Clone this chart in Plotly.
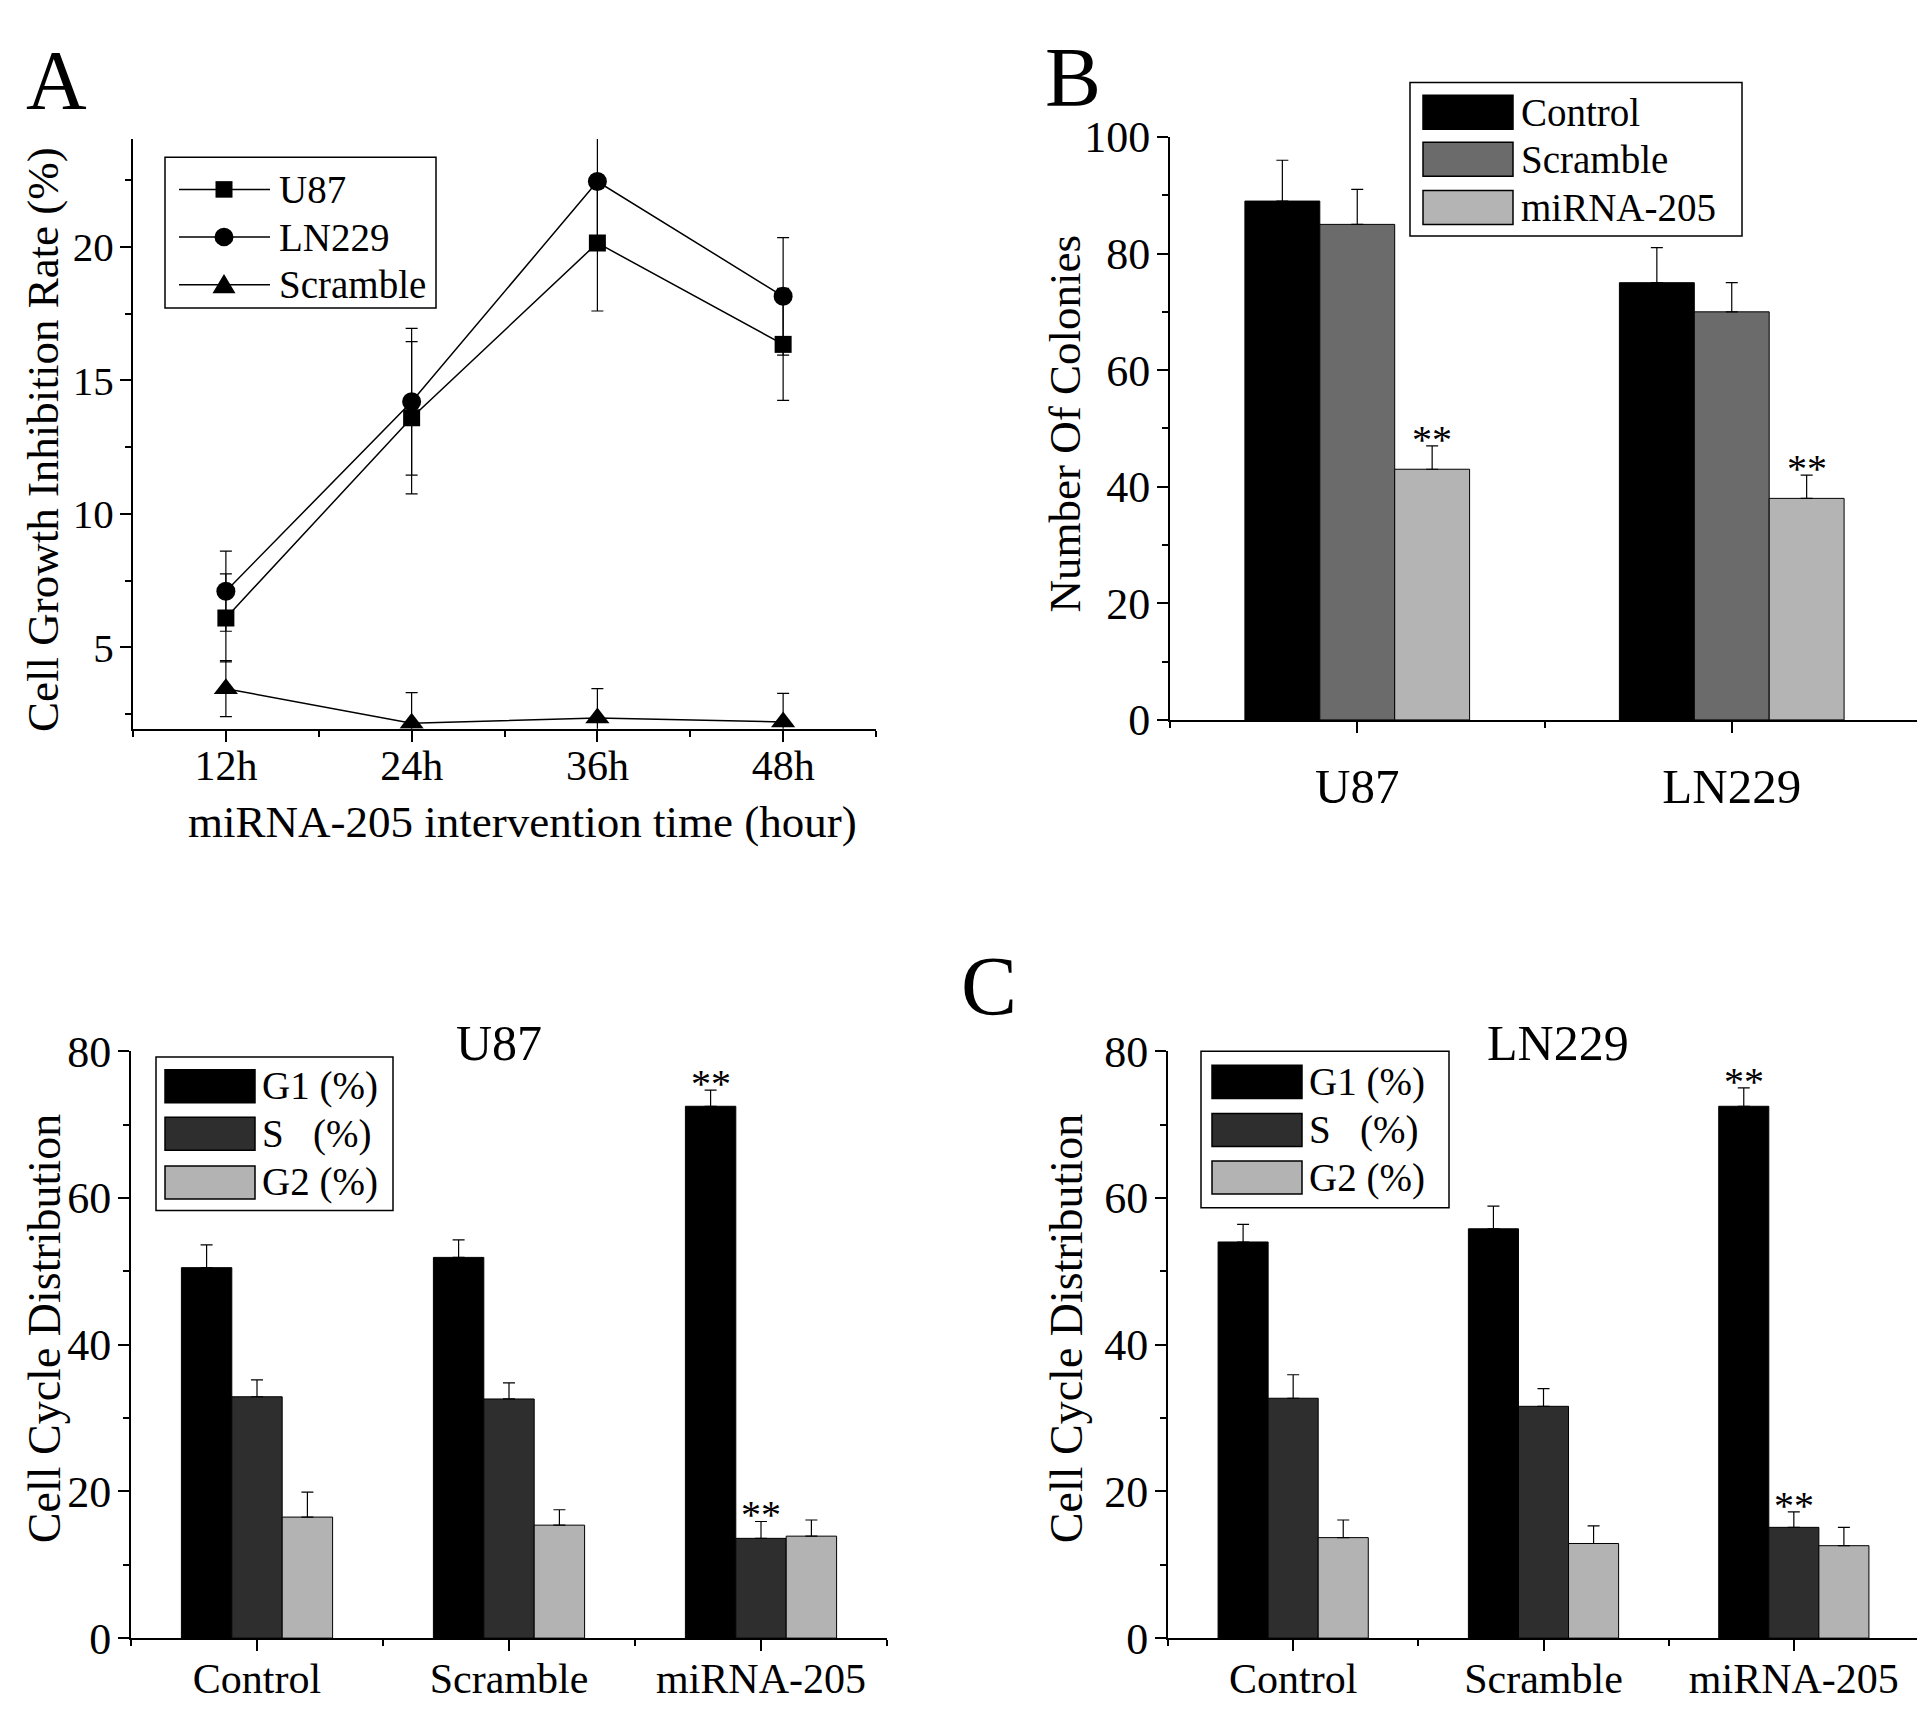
import plotly.graph_objects as go

W, H = 1925, 1728
FONT = "Liberation Serif"

# ---- panel A: growth inhibition over time
hours = [12, 24, 36, 48]
hour_labels = ["12h", "24h", "36h", "48h"]
u87_rate = [6.1, 13.6, 20.15, 16.35]
u87_err = [1.65, 2.85, 2.55, 2.1]
ln229_rate = [7.1, 14.2, 22.45, 18.15]
ln229_err = [1.5, 2.75, 2.55, 2.2]
scr_rate = [3.45, 2.15, 2.35, 2.2]
scr_err = [1.05, 1.15, 1.1, 1.07]
a_names = ["U87", "LN229", "Scramble"]

# ---- panel B: colony numbers
cell_lines = ["U87", "LN229"]
col_control = [89, 75]
col_control_err = [7, 6]
col_scramble = [85, 70]
col_scramble_err = [6, 5]
col_mirna = [43, 38]
col_mirna_err = [4, 4]

# ---- panel C: cell cycle distribution
treatments = ["Control", "Scramble", "miRNA-205"]
u87_g1 = [50.5, 51.9, 72.5]
u87_g1_err = [3.1, 2.4, 2.2]
u87_s = [32.9, 32.6, 13.6]
u87_s_err = [2.3, 2.2, 2.3]
u87_g2 = [16.5, 15.4, 13.9]
u87_g2_err = [3.4, 2.1, 2.2]
ln_g1 = [54.0, 55.8, 72.5]
ln_g1_err = [2.4, 3.1, 2.5]
ln_s = [32.7, 31.6, 15.1]
ln_s_err = [3.2, 2.4, 2.1]
ln_g2 = [13.7, 12.9, 12.6]
ln_g2_err = [2.4, 2.4, 2.5]

b_names = ["Control", "Scramble", "miRNA-205"]
b_colors = ["#000000", "#6b6b6b", "#b4b4b4"]
c_names = ["G1 (%)", "S\u00a0\u00a0\u00a0(%)", "G2 (%)"]
c_colors = ["#000000", "#2e2e2e", "#b3b3b3"]


def fx(x):
    return x / W


def fy(y):
    return 1 - y / H


fig = go.Figure()

# A lines
a_series = [(u87_rate, u87_err, "square", 17), (ln229_rate, ln229_err, "circle", 19),
            (scr_rate, scr_err, "triangle-up", 21)]
for name, (vals, err, sym, size) in zip(a_names, a_series):
    fig.add_trace(go.Scatter(
        x=hours, y=vals, name=name, mode="lines+markers", showlegend=False,
        line=dict(color="black", width=1.5),
        marker=dict(symbol=sym, size=size, color="black"),
        error_y=dict(type="data", array=err, color="black", thickness=1.2, width=6),
        xaxis="x", yaxis="y"))


def bar(xs, vals, err, color, xa, ya):
    return go.Bar(x=xs, y=vals, showlegend=False,
                  marker=dict(color=color, line=dict(color="black", width=1)),
                  error_y=dict(type="data", array=err, arrayminus=[0] * len(err), symmetric=False,
                               color="black", thickness=1.2, width=6),
                  xaxis=xa, yaxis=ya)


bx = list(range(len(cell_lines)))
fig.add_trace(bar(bx, col_control, col_control_err, b_colors[0], "x2", "y2"))
fig.add_trace(bar(bx, col_scramble, col_scramble_err, b_colors[1], "x2", "y2"))
fig.add_trace(bar(bx, col_mirna, col_mirna_err, b_colors[2], "x2", "y2"))

cx = list(range(len(treatments)))
for vals, err, col in [(u87_g1, u87_g1_err, c_colors[0]), (u87_s, u87_s_err, c_colors[1]),
                       (u87_g2, u87_g2_err, c_colors[2])]:
    fig.add_trace(bar(cx, vals, err, col, "x3", "y3"))
for vals, err, col in [(ln_g1, ln_g1_err, c_colors[0]), (ln_s, ln_s_err, c_colors[1]),
                       (ln_g2, ln_g2_err, c_colors[2])]:
    fig.add_trace(bar(cx, vals, err, col, "x4", "y4"))


def axis(domain, rng, tickvals, ticktext, minor_vals, size, anchor, standoff=0):
    return dict(domain=domain, range=rng, tickmode="array", tickvals=tickvals, ticktext=ticktext,
                showline=True, linecolor="black", linewidth=2, ticks="outside", ticklen=11,
                tickwidth=2, tickcolor="black", showgrid=False, zeroline=False, anchor=anchor,
                tickfont=dict(family=FONT, size=size, color="black"),
                ticklabelstandoff=standoff,
                minor=dict(tickvals=minor_vals, ticks="outside", ticklen=6, tickwidth=2,
                           tickcolor="black", showgrid=False))


fig.update_layout(
    width=W, height=H, margin=dict(l=0, r=0, t=0, b=0),
    paper_bgcolor="white", plot_bgcolor="white",
    bargap=0.4, bargroupgap=0, barmode="group", showlegend=False,
    font=dict(family=FONT, color="black"),
    xaxis=axis([fx(125), fx(868)], [6, 54], hours, hour_labels, [6, 18, 30, 42, 54], 42, "y", -12),
    yaxis=axis([fy(717), fy(110)], [1.95, 24.05], [5, 10, 15, 20], ["5", "10", "15", "20"],
               [2.5, 7.5, 12.5, 17.5, 22.5], 41, "x", -2),
    xaxis2=axis([fx(1162), fx(1911)], [-0.5, 1.5], bx, cell_lines, [-0.5, 0.5, 1.5], 49, "y2", 11),
    yaxis2=axis([fy(708), fy(108)], [0, 100], [0, 20, 40, 60, 80, 100],
                ["0", "20", "40", "60", "80", "100"], [10, 30, 50, 70, 90], 44, "x2", -2),
    xaxis3=axis([fx(123), fx(879)], [-0.5, 2.5], cx, treatments, [-0.5, 0.5, 1.5, 2.5], 42, "y3", -9),
    yaxis3=axis([fy(1653), fy(1049)], [0, 80], [0, 20, 40, 60, 80], ["0", "20", "40", "60", "80"],
                [10, 30, 50, 70], 44, "x3", -2),
    xaxis4=axis([fx(1160), fx(1911)], [-0.5, 2.5], cx, treatments, [-0.5, 0.5, 1.5, 2.5], 42, "y4", -9),
    yaxis4=axis([fy(1653), fy(1049)], [0, 80], [0, 20, 40, 60, 80], ["0", "20", "40", "60", "80"],
                [10, 30, 50, 70], 44, "x4", -2),
)

ann = []
shapes = []


def text(x, y, s, size, angle=0):
    ann.append(dict(x=fx(x), y=fy(y), xref="paper", yref="paper", text=s, showarrow=False,
                    textangle=angle, xanchor="center", yanchor="middle",
                    font=dict(family=FONT, size=size, color="black")))


# panel letters
text(48, 50, "A", 84)
text(1065, 47, "B", 84)
text(981, 982, "C", 84)
# axis titles
text(35, 420, "Cell Growth Inhibition Rate (%)", 45, -90)
text(514, 813, "miRNA-205 intervention time (hour)", 45)
text(1057, 404, "Number Of Colonies", 45, -90)
text(36, 1335, "Cell Cycle Distribution", 46, -90)
text(1058, 1335, "Cell Cycle Distribution", 46, -90)
# subplot titles
text(491, 1040, "U87", 50)
text(1550, 1040, "LN229", 50)

# significance stars on top of error bars
w = (1 - 0.4) / 3


def stars(xa, ya, xpos, top):
    ann.append(dict(x=xpos, y=top, xref=xa, yref=ya, text="**", showarrow=False,
                    yanchor="bottom", yshift=-18, font=dict(family=FONT, size=40, color="black")))


for i in bx:
    stars("x2", "y2", i + w, col_mirna[i] + col_mirna_err[i])
stars("x3", "y3", 2 - w, u87_g1[2] + u87_g1_err[2])
stars("x3", "y3", 2, u87_s[2] + u87_s_err[2])
stars("x4", "y4", 2 - w, ln_g1[2] + ln_g1_err[2])
stars("x4", "y4", 2, ln_s[2] + ln_s_err[2])


def frame(x0, y0, x1, y1, fill="white"):
    shapes.append(dict(type="rect", xref="paper", yref="paper", x0=fx(x0), x1=fx(x1),
                       y0=fy(y1), y1=fy(y0), line=dict(color="black", width=1.5),
                       fillcolor=fill, layer="above"))


def label(x, y, s):
    ann.append(dict(x=fx(x), y=fy(y), xref="paper", yref="paper", text=s,
                    showarrow=False, xanchor="left", yanchor="middle",
                    font=dict(family=FONT, size=39, color="black")))


# legend of panel A (line + marker samples)
frame(157, 129, 428, 284)
for name, cy, sym in zip(a_names, [162, 211, 260], ["square", "circle", "triangle"]):
    shapes.append(dict(type="line", xref="paper", yref="paper", x0=fx(171), x1=fx(262),
                       y0=fy(cy), y1=fy(cy), line=dict(color="black", width=1.5), layer="above"))
    mx = 216
    if sym == "square":
        shapes.append(dict(type="rect", xref="paper", yref="paper", x0=fx(mx - 8.5), x1=fx(mx + 8.5),
                           y0=fy(cy + 8.5), y1=fy(cy - 8.5), fillcolor="black",
                           line=dict(color="black", width=0), layer="above"))
    elif sym == "circle":
        shapes.append(dict(type="circle", xref="paper", yref="paper", x0=fx(mx - 9.5), x1=fx(mx + 9.5),
                           y0=fy(cy + 9.5), y1=fy(cy - 9.5), fillcolor="black",
                           line=dict(color="black", width=0), layer="above"))
    else:
        p = "M {:.5f},{:.5f} L {:.5f},{:.5f} L {:.5f},{:.5f} Z".format(
            fx(mx - 11.5), fy(cy + 9), fx(mx + 11.5), fy(cy + 9), fx(mx), fy(cy - 11))
        shapes.append(dict(type="path", xref="paper", yref="paper", path=p, fillcolor="black",
                           line=dict(color="black", width=0), layer="above"))
    label(269, cy, name)


def box_legend(box, names, colors, sw_x0, sw_x1, centers, sw_h, text_x):
    frame(*box)
    for name, col, cy in zip(names, colors, centers):
        frame(sw_x0, cy - sw_h / 2, sw_x1, cy + sw_h / 2, col)
        label(text_x, cy, name)


box_legend((1402, 52, 1734, 210), b_names, b_colors, 1415, 1505, [82.5, 131, 180.5], 35, 1511)
box_legend((148, 1055, 385, 1213), c_names, c_colors, 157, 247, [1085, 1134, 1184], 34, 252)
box_legend((1193, 1049, 1441, 1210), c_names, c_colors, 1204, 1294, [1080.5, 1130, 1179], 34, 1299)

fig.update_layout(annotations=ann, shapes=shapes)
fig.write_html("out.html")
